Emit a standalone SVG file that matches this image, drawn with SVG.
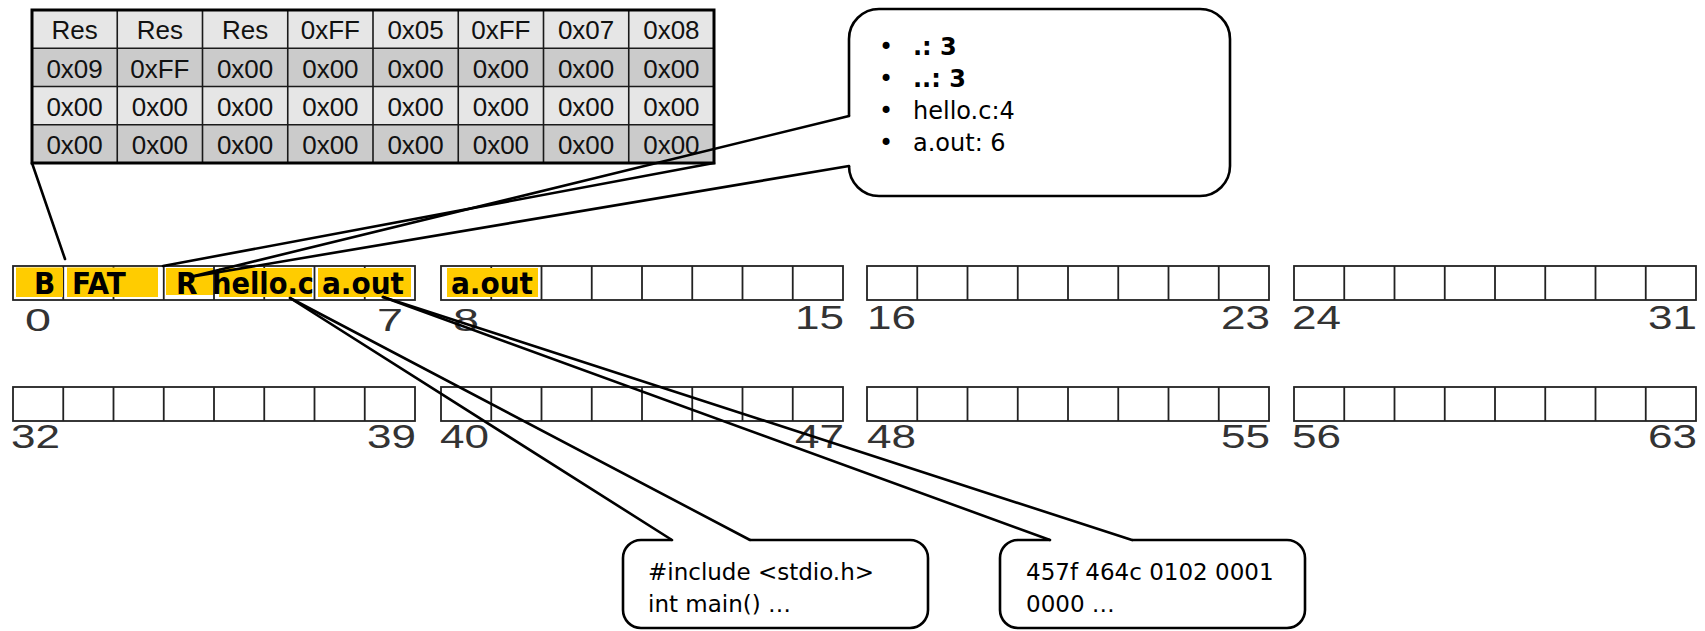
<svg xmlns="http://www.w3.org/2000/svg" xmlns:xlink="http://www.w3.org/1999/xlink" width="1705" height="631" viewBox="0 0 1705 631">
<style>
.tt{font-family:"Liberation Sans",Arial,sans-serif;font-size:26px;fill:#111;text-anchor:middle}
.r1{fill:#e6e6e6}
.r2{fill:#cbcbcb}
.grid{fill:none;stroke:#1a1a1a;stroke-width:1.6}
.blk{fill:#fff;stroke:#222;stroke-width:1.8}
.vl{fill:none;stroke:#222;stroke-width:1.8}
.yel{fill:#ffcc00}
.bt{font-family:"DejaVu Sans Condensed","DejaVu Sans",Verdana,sans-serif;font-weight:bold;font-size:31px;fill:#000}
.num{font-family:"Liberation Sans",Arial,sans-serif;font-size:34px;fill:#333}
.num2{font-family:"Liberation Sans",Arial,sans-serif;font-size:32px;fill:#333;text-anchor:middle}
.co{fill:#fff;stroke:#000;stroke-width:2.6}
.ct{font-family:"DejaVu Sans",Verdana,sans-serif;font-size:23px;fill:#000}
.ct2{font-family:"DejaVu Sans",Verdana,sans-serif;font-size:24px;fill:#000}
.b{font-weight:bold}
.ln{stroke:#000;stroke-width:2.6;fill:none;stroke-linecap:round}
</style>
<defs>
<g id="blk8">
<rect class="blk" x="0" y="0" width="402" height="34"/>
<path class="vl" d="M50.25 0V34M100.5 0V34M150.75 0V34M201 0V34M251.25 0V34M301.5 0V34M351.75 0V34"/>
</g>
</defs>

<g id="fat-table">
<rect class="r1" x="32" y="10" width="682" height="38.25"/>
<rect class="r2" x="32" y="48.25" width="682" height="38.25"/>
<rect class="r1" x="32" y="86.5" width="682" height="38.25"/>
<rect class="r2" x="32" y="124.75" width="682" height="38.25"/>
<path class="grid" d="M117.25 10V163M202.5 10V163M287.75 10V163M373 10V163M458.25 10V163M543.5 10V163M628.75 10V163M32 48.25H714M32 86.5H714M32 124.75H714"/>
<rect x="32" y="10" width="682" height="153" fill="none" stroke="#000" stroke-width="3"/>
<text class="tt" y="39"><tspan x="74.6">Res</tspan><tspan x="159.9">Res</tspan><tspan x="245.1">Res</tspan><tspan x="330.4">0xFF</tspan><tspan x="415.6">0x05</tspan><tspan x="500.9">0xFF</tspan><tspan x="586.1">0x07</tspan><tspan x="671.4">0x08</tspan></text>
<text class="tt" y="77.5"><tspan x="74.6">0x09</tspan><tspan x="159.9">0xFF</tspan><tspan x="245.1">0x00</tspan><tspan x="330.4">0x00</tspan><tspan x="415.6">0x00</tspan><tspan x="500.9">0x00</tspan><tspan x="586.1">0x00</tspan><tspan x="671.4">0x00</tspan></text>
<text class="tt" y="115.5"><tspan x="74.6">0x00</tspan><tspan x="159.9">0x00</tspan><tspan x="245.1">0x00</tspan><tspan x="330.4">0x00</tspan><tspan x="415.6">0x00</tspan><tspan x="500.9">0x00</tspan><tspan x="586.1">0x00</tspan><tspan x="671.4">0x00</tspan></text>
<text class="tt" y="154"><tspan x="74.6">0x00</tspan><tspan x="159.9">0x00</tspan><tspan x="245.1">0x00</tspan><tspan x="330.4">0x00</tspan><tspan x="415.6">0x00</tspan><tspan x="500.9">0x00</tspan><tspan x="586.1">0x00</tspan><tspan x="671.4">0x00</tspan></text>
</g>

<g id="blocks-0-31">
<use xlink:href="#blk8" x="13" y="266"/>
<use xlink:href="#blk8" x="441" y="266"/>
<use xlink:href="#blk8" x="867" y="266"/>
<use xlink:href="#blk8" x="1294" y="266"/>
</g>
<g id="blocks-32-63">
<use xlink:href="#blk8" x="13" y="387"/>
<use xlink:href="#blk8" x="441" y="387"/>
<use xlink:href="#blk8" x="867" y="387"/>
<use xlink:href="#blk8" x="1294" y="387"/>
</g>

<g id="used-blocks">
<rect class="yel" x="16" y="267.5" width="47" height="29.5"/>
<rect class="yel" x="67" y="267.5" width="91" height="29.5"/>
<rect class="yel" x="166" y="268" width="47" height="27"/>
<rect class="yel" x="219" y="268" width="93" height="29"/>
<rect class="yel" x="318" y="268" width="93" height="29"/>
<rect class="yel" x="447" y="268" width="91" height="29"/>
<text class="bt" x="34" y="294">B</text>
<text class="bt" x="72" y="294">FAT</text>
<text class="bt" x="176" y="294">R</text>
<text class="bt" x="212" y="294" textLength="102" lengthAdjust="spacingAndGlyphs">hello.c</text>
<text class="bt" x="322" y="294" textLength="82" lengthAdjust="spacingAndGlyphs">a.out</text>
<text class="bt" x="451" y="294" textLength="82" lengthAdjust="spacingAndGlyphs">a.out</text>
</g>

<g id="block-numbers">
<text class="num2" x="38" y="331" textLength="26" lengthAdjust="spacingAndGlyphs">0</text>
<text class="num2" x="390" y="331" textLength="26" lengthAdjust="spacingAndGlyphs">7</text>
<text class="num2" x="466" y="331" textLength="26" lengthAdjust="spacingAndGlyphs">8</text>
<text class="num" x="795" y="329" textLength="49" lengthAdjust="spacingAndGlyphs">15</text>
<text class="num" x="867" y="329" textLength="49" lengthAdjust="spacingAndGlyphs">16</text>
<text class="num" x="1221" y="329" textLength="49" lengthAdjust="spacingAndGlyphs">23</text>
<text class="num" x="1292" y="329" textLength="49" lengthAdjust="spacingAndGlyphs">24</text>
<text class="num" x="1648" y="329" textLength="49" lengthAdjust="spacingAndGlyphs">31</text>
<text class="num" x="11" y="448" textLength="49" lengthAdjust="spacingAndGlyphs">32</text>
<text class="num" x="367" y="448" textLength="49" lengthAdjust="spacingAndGlyphs">39</text>
<text class="num" x="440" y="448" textLength="49" lengthAdjust="spacingAndGlyphs">40</text>
<text class="num" x="795" y="448" textLength="49" lengthAdjust="spacingAndGlyphs">47</text>
<text class="num" x="867" y="448" textLength="49" lengthAdjust="spacingAndGlyphs">48</text>
<text class="num" x="1221" y="448" textLength="49" lengthAdjust="spacingAndGlyphs">55</text>
<text class="num" x="1292" y="448" textLength="49" lengthAdjust="spacingAndGlyphs">56</text>
<text class="num" x="1648" y="448" textLength="49" lengthAdjust="spacingAndGlyphs">63</text>
</g>

<g id="dir-callout">
<path class="co" d="M849 116V39A30 30 0 0 1 879 9H1200A30 30 0 0 1 1230 39V166A30 30 0 0 1 1200 196H879A30 30 0 0 1 849 166"/>
<text class="ct2" x="879" y="55">•</text>
<text class="ct2 b" x="913" y="55">.: 3</text>
<text class="ct2" x="879" y="87">•</text>
<text class="ct2 b" x="913" y="87">..: 3</text>
<text class="ct2" x="879" y="119">•</text>
<text class="ct2" x="913" y="119">hello.c:4</text>
<text class="ct2" x="879" y="151">•</text>
<text class="ct2" x="913" y="151">a.out: 6</text>
</g>

<g id="hello-callout">
<path class="co" d="M750 540H910A18 18 0 0 1 928 558V610A18 18 0 0 1 910 628H641A18 18 0 0 1 623 610V558A18 18 0 0 1 641 540H672"/>
<text class="ct" x="648" y="580">#include &lt;stdio.h&gt;</text>
<text class="ct" x="648" y="612">int main() …</text>
</g>

<g id="aout-callout">
<path class="co" d="M1132 540H1287A18 18 0 0 1 1305 558V610A18 18 0 0 1 1287 628H1018A18 18 0 0 1 1000 610V558A18 18 0 0 1 1018 540H1050"/>
<text class="ct" x="1026" y="580">457f 464c 0102 0001</text>
<text class="ct" x="1026" y="612">0000 …</text>
</g>

<g id="connectors">
<line class="ln" x1="32" y1="163" x2="65" y2="259"/>
<line class="ln" x1="714" y1="163" x2="163" y2="266"/>
<line class="ln" x1="849" y1="116" x2="190" y2="277"/>
<line class="ln" x1="849" y1="166" x2="190" y2="277"/>
<line class="ln" x1="672" y1="540" x2="290" y2="298"/>
<line class="ln" x1="750" y1="540" x2="290" y2="298"/>
<line class="ln" x1="1050" y1="540" x2="383" y2="297"/>
<line class="ln" x1="1132" y1="540" x2="383" y2="297"/>
</g>
</svg>
